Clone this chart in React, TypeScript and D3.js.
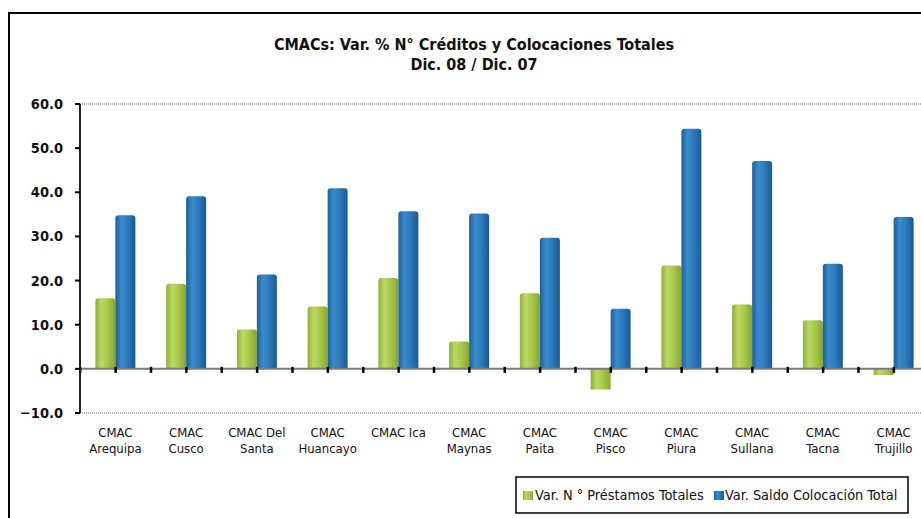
import React from "react";
import * as d3 from "d3";

const categories: string[][] = [
  ["CMAC", "Arequipa"],
  ["CMAC", "Cusco"],
  ["CMAC Del", "Santa"],
  ["CMAC", "Huancayo"],
  ["CMAC Ica"],
  ["CMAC", "Maynas"],
  ["CMAC", "Paita"],
  ["CMAC", "Pisco"],
  ["CMAC", "Piura"],
  ["CMAC", "Sullana"],
  ["CMAC", "Tacna"],
  ["CMAC", "Trujillo"],
];
const prestamos: number[] = [16.0, 19.3, 8.9, 14.1, 20.6, 6.2, 17.1, -4.7, 23.4, 14.6, 11.0, -1.4];
const colocacion: number[] = [34.8, 39.1, 21.4, 40.9, 35.7, 35.2, 29.7, 13.6, 54.4, 47.1, 23.8, 34.4];
const yTicks: number[] = [-10, 0, 10, 20, 30, 40, 50, 60];
const seriesNames: string[] = ["Var. N ° Préstamos Totales", "Var. Saldo Colocación Total"];
const titleLines: string[] = ["CMACs: Var. % N° Créditos y Colocaciones Totales", "Dic. 08 / Dic. 07"];

const W = 921;
const H = 518;
const FONT = "'DejaVu Sans Condensed', 'DejaVu Sans', sans-serif";

export default function App() {
  const x0 = 80;
  const bandW = 70.75;
  const x = d3
    .scaleBand<number>()
    .domain(d3.range(categories.length))
    .range([x0, x0 + bandW * categories.length])
    .padding(0);
  const y = d3.scaleLinear().domain([-10, 60]).range([413, 104]);
  const barW = 20;

  const barPath = (bx: number, v: number) => {
    const top = y(Math.max(v, 0));
    const bot = y(Math.min(v, 0));
    const r = v > 0 ? Math.min(3, bot - top) : 0;
    return `M${bx},${bot} L${bx},${top + r} Q${bx},${top} ${bx + r},${top} L${bx + barW - r},${top} Q${bx + barW},${top} ${bx + barW},${top + r} L${bx + barW},${bot} Z`;
  };

  const boundaries = d3.range(categories.length + 1).map((i) => x0 + i * bandW);
  const centers = categories.map((_, i) => (x(i) as number) + bandW / 2);

  return (
    <svg width={W} height={H} style={{ position: "absolute", left: 0, top: 0, background: "#fff" }}>
      <defs>
        <linearGradient id="gGreen" x1="0" x2="1" y1="0" y2="0">
          <stop offset="0" stopColor="#8fae3a" />
          <stop offset="0.3" stopColor="#bdd862" />
          <stop offset="0.6" stopColor="#a9c94c" />
          <stop offset="1" stopColor="#86a632" />
        </linearGradient>
        <linearGradient id="gBlue" x1="0" x2="1" y1="0" y2="0">
          <stop offset="0" stopColor="#1d5f98" />
          <stop offset="0.3" stopColor="#3a8bcb" />
          <stop offset="0.6" stopColor="#2c7bbd" />
          <stop offset="1" stopColor="#1b5a92" />
        </linearGradient>
      </defs>
      <rect x={9} y={13} width={1000} height={1000} fill="none" stroke="#000" strokeWidth={2} />

      {titleLines.map((t, i) => (
        <text
          key={i}
          x={474}
          y={50 + i * 20}
          textAnchor="middle"
          fontFamily={FONT}
          fontWeight="bold"
          fontSize={16}
          fill="#111"
        >
          {t}
        </text>
      ))}

      {/* dotted gridlines at top and bottom */}
      {[60, -10].map((v) => (
        <line
          key={v}
          x1={x0}
          x2={W}
          y1={y(v)}
          y2={y(v)}
          stroke="#a0a0a0"
          strokeWidth={1.5}
          strokeDasharray="1,1"
        />
      ))}

      {/* bars */}
      {categories.map((_, i) => (
        <g key={i}>
          <path d={barPath(centers[i] - barW, prestamos[i])} fill="url(#gGreen)" />
          <path d={barPath(centers[i], colocacion[i])} fill="url(#gBlue)" />
        </g>
      ))}

      {/* zero line */}
      <line x1={x0} x2={W} y1={y(0)} y2={y(0)} stroke="#7a7a7a" strokeWidth={2} />
      {[...boundaries, ...centers].map((bx, i) => (
        <rect key={i} x={bx - 1} y={y(0) - 2} width={2.5} height={6} fill="#000" />
      ))}

      {/* y axis */}
      <line x1={x0} x2={x0} y1={y(60)} y2={y(-10)} stroke="#222" strokeWidth={2} />
      {yTicks.map((t) => (
        <g key={t}>
          <line x1={x0 - 5} x2={x0} y1={y(t)} y2={y(t)} stroke="#000" strokeWidth={2} />
          <text
            x={63}
            y={y(t) + 5}
            textAnchor="end"
            fontFamily={FONT}
            fontWeight="bold"
            fontSize={14.5}
            fill="#111"
          >
            {d3.format(".1f")(t)}
          </text>
        </g>
      ))}

      {/* category labels */}
      {categories.map((lines, i) => (
        <text key={i} textAnchor="middle" fontFamily={FONT} fontSize={13} fill="#111">
          {lines.map((l, j) => (
            <tspan key={j} x={centers[i]} y={437 + j * 16}>
              {l}
            </tspan>
          ))}
        </text>
      ))}

      {/* legend */}
      <rect x={516} y={477} width={392} height={36} fill="#fff" stroke="#000" strokeWidth={1.5} />
      <rect x={523} y={491} width={10} height={9} fill="url(#gGreen)" />
      <text x={535} y={500} fontFamily={FONT} fontSize={14.4} fill="#111">
        {seriesNames[0]}
      </text>
      <rect x={714} y={491} width={10} height={9} fill="url(#gBlue)" />
      <text x={725} y={500} fontFamily={FONT} fontSize={14.4} fill="#111">
        {seriesNames[1]}
      </text>
    </svg>
  );
}
